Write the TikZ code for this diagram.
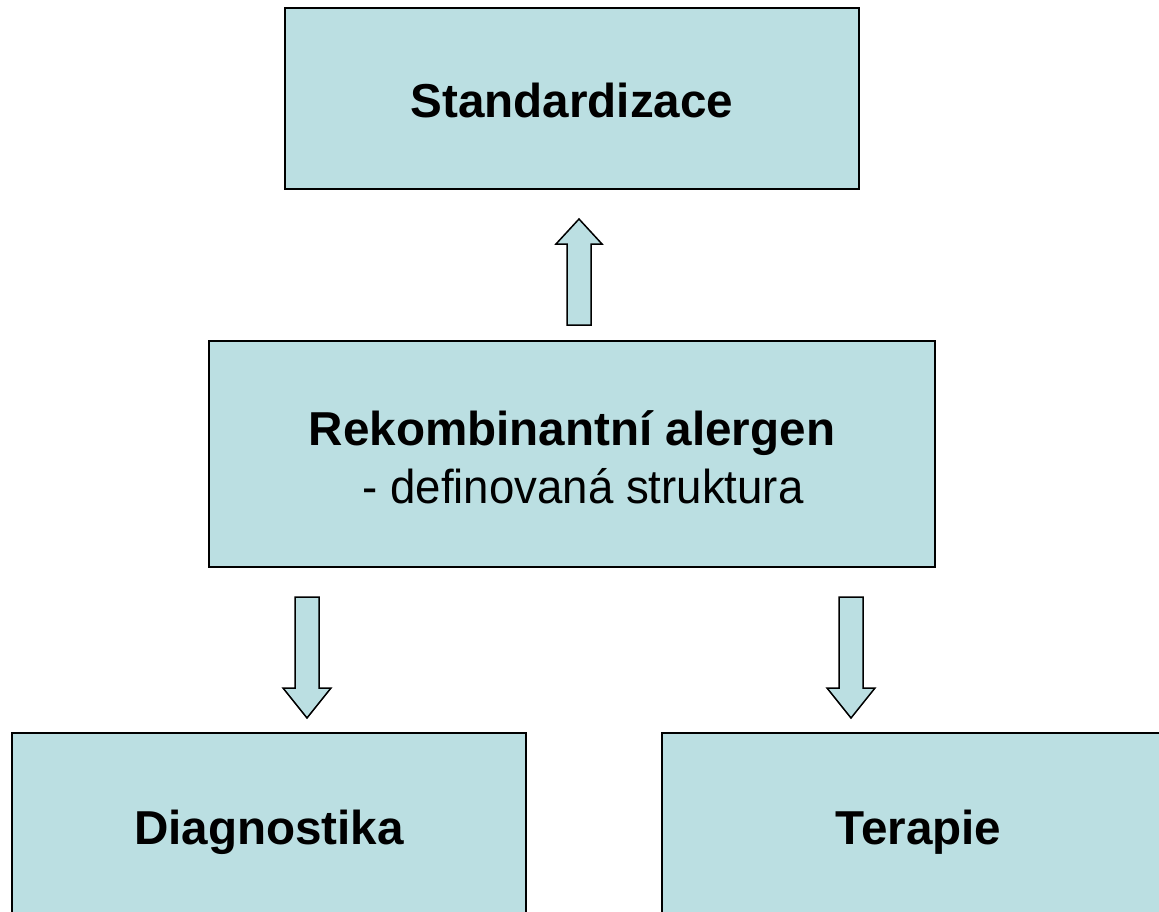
\documentclass[tikz,border=0pt]{standalone}
\usepackage{fontspec}
\setmainfont{Liberation Sans}
\usetikzlibrary{calc}
\definecolor{boxfill}{HTML}{BBDFE2}
\begin{document}
\begin{tikzpicture}[x=1pt,y=-1pt,
  box/.style={draw=black, line width=1.5pt, fill=boxfill, inner sep=0pt},
  txt/.style={font=\fontsize{47.6}{58}\selectfont, inner sep=0pt, anchor=base},
  blockarrow/.style={draw=black, line width=1.5pt, fill=boxfill, line join=miter}]
\useasboundingbox (0,0) rectangle (1159,912);
\begin{scope}
\clip (0,0) rectangle (1159,912);
\node[box, minimum width=574pt, minimum height=181pt] (std) at (572,98.5) {};
\node[box, minimum width=726pt, minimum height=226pt] (rek) at (572,454) {};
\node[box, minimum width=514pt, minimum height=280pt] (dia) at (269,873) {};
\node[box, minimum width=513pt, minimum height=280pt] (ter) at (918.5,873) {};
\end{scope}
\node[txt, font=\fontsize{47.6}{58}\selectfont\bfseries] (tstd) at (572,118) {Standardizace};
\node[txt, font=\fontsize{47.6}{58}\selectfont\bfseries] (trek1) at (572,445) {Rekombinantní alergen};
\node[txt, xscale=0.958] (trek2) at (583,503) {- definovaná struktura};
\node[txt, font=\fontsize{47.6}{58}\selectfont\bfseries] (tdia) at (269,844) {Diagnostika};
\node[txt, font=\fontsize{47.6}{58}\selectfont\bfseries] (tter) at (918.5,844) {Terapie};
% up arrow from rek to std
\coordinate (u0) at (579,325);
\coordinate (u1) at (579,219);
\draw[blockarrow] ($(u0)+(-12,0)$) -- ($(u0)+(-12,-81)$) -- ($(u0)+(-23,-81)$) -- (u1) -- ($(u0)+(23,-81)$) -- ($(u0)+(12,-81)$) -- ($(u0)+(12,0)$) -- cycle;
% down arrows
\coordinate (l0) at (307,597);
\coordinate (l1) at (307,718);
\draw[blockarrow] ($(l0)+(-12,0)$) -- ($(l0)+(-12,91)$) -- ($(l0)+(-24,91)$) -- (l1) -- ($(l0)+(24,91)$) -- ($(l0)+(12,91)$) -- ($(l0)+(12,0)$) -- cycle;
\coordinate (r0) at (851,597);
\coordinate (r1) at (851,718);
\draw[blockarrow] ($(r0)+(-12,0)$) -- ($(r0)+(-12,91)$) -- ($(r0)+(-24,91)$) -- (r1) -- ($(r0)+(24,91)$) -- ($(r0)+(12,91)$) -- ($(r0)+(12,0)$) -- cycle;
\end{tikzpicture}
\end{document}
